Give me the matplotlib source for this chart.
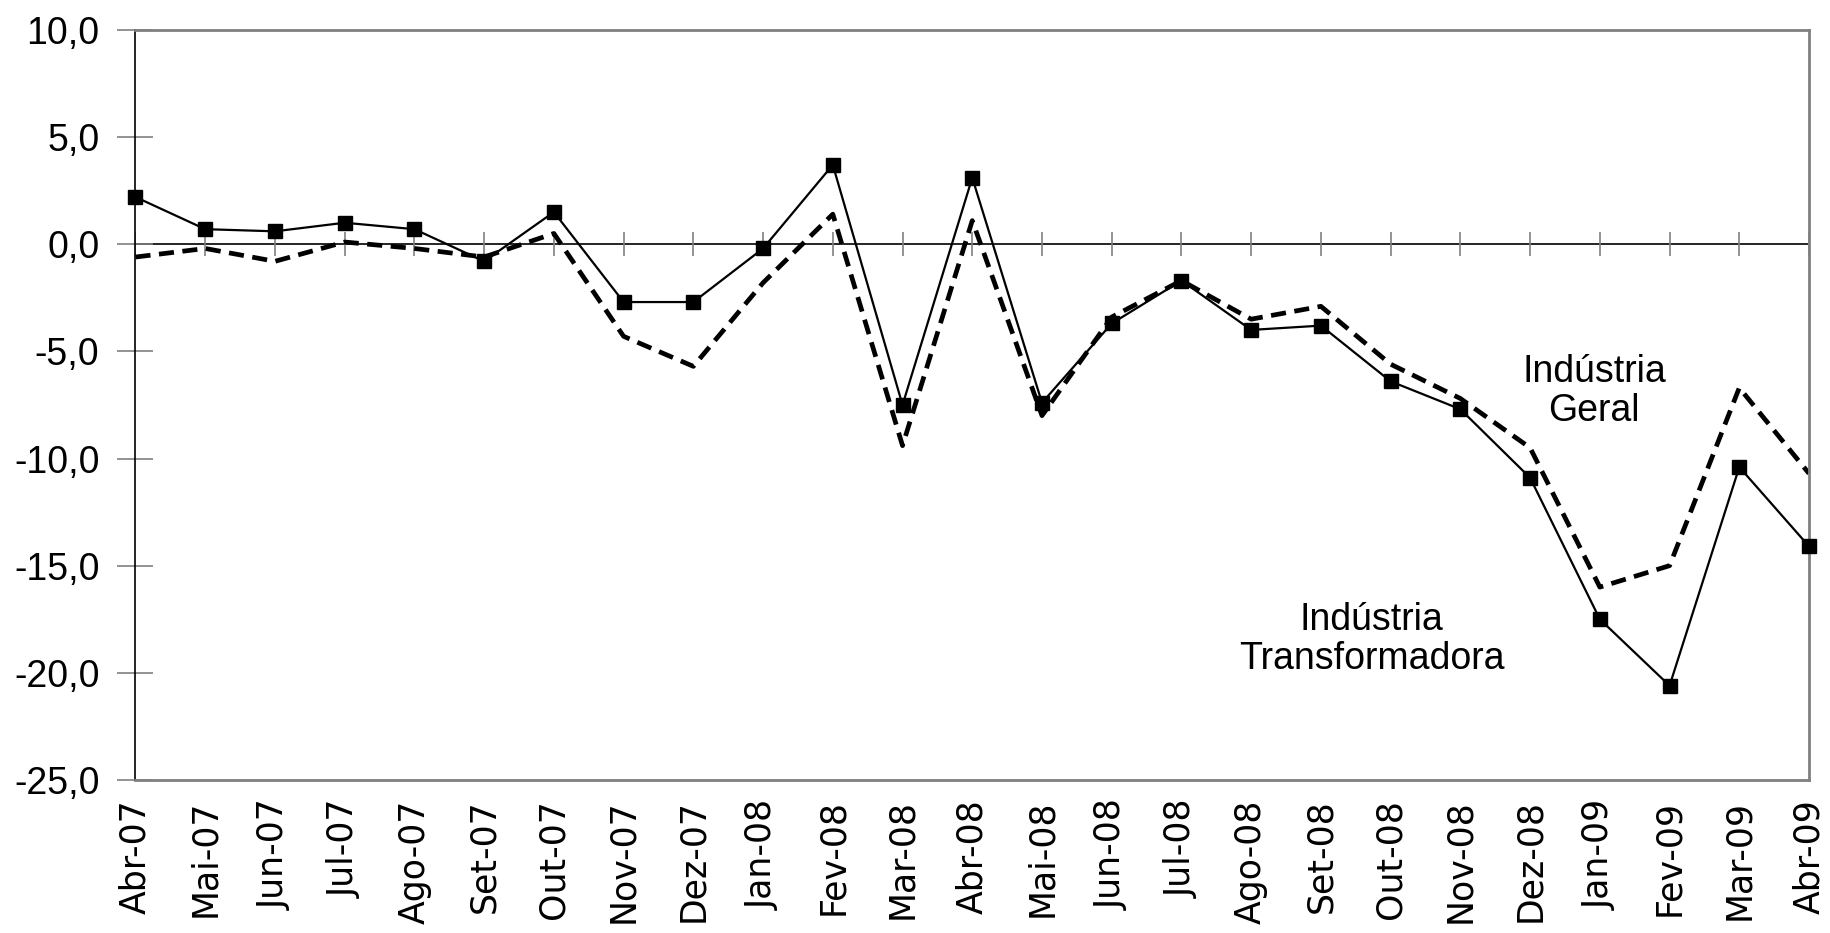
import numpy as np
import matplotlib
matplotlib.use('Agg')
from matplotlib import pyplot as plt

meses = ['Abr-07', 'Mai-07', 'Jun-07', 'Jul-07', 'Ago-07', 'Set-07', 'Out-07',
         'Nov-07', 'Dez-07', 'Jan-08', 'Fev-08', 'Mar-08', 'Abr-08', 'Mai-08',
         'Jun-08', 'Jul-08', 'Ago-08', 'Set-08', 'Out-08', 'Nov-08', 'Dez-08',
         'Jan-09', 'Fev-09', 'Mar-09', 'Abr-09']

# Indústria Transformadora (linha contínua com marcadores)
transformadora = [2.2, 0.7, 0.6, 1.0, 0.7, -0.8, 1.5, -2.7, -2.7, -0.2, 3.7,
                  -7.5, 3.1, -7.4, -3.7, -1.7, -4.0, -3.8, -6.4, -7.7, -10.9,
                  -17.5, -20.6, -10.4, -14.1]

# Indústria Geral (linha tracejada)
geral = [-0.6, -0.2, -0.8, 0.1, -0.2, -0.6, 0.5, -4.3, -5.7, -1.8, 1.4,
         -9.4, 1.1, -8.0, -3.4, -1.7, -3.5, -2.9, -5.6, -7.2, -9.5,
         -16.0, -15.0, -6.7, -10.7]

yticks = [10, 5, 0, -5, -10, -15, -20, -25]

fig = plt.figure(figsize=(18.31, 9.33), dpi=100)
ax = fig.add_axes([0.074, 0.164, 0.914, 0.804])

x = np.arange(len(meses))

ax.axhline(0, color='black', lw=1.2, zorder=1)
# marcas do eixo das categorias sobre a linha do zero
ax.plot(x, np.zeros(len(x)), ls='none', marker='|', markersize=17,
        markeredgewidth=1.2, color='#808080', zorder=1)

ax.plot(x, geral, color='black', lw=3.4, dashes=(3.2, 1.8), zorder=2,
        clip_on=False)
ax.plot(x, transformadora, color='black', lw=1.6, marker='s', markersize=9.5,
        zorder=3, clip_on=False)

ax.set_xlim(0, len(meses) - 1)
ax.set_ylim(-25, 10)

ax.set_yticks(yticks)
ax.set_yticklabels([('%.1f' % v).replace('.', ',') for v in yticks],
                   family='Liberation Sans', fontsize=27)
ax.tick_params(axis='y', direction='inout', length=26, width=1.2,
               color='#808080', pad=13)

ax.set_xticks(x)
ax.set_xticklabels(meses, rotation=90, family='DejaVu Sans', fontsize=25)
ax.tick_params(axis='x', length=0, pad=14)

for s in ['top', 'right', 'bottom']:
    ax.spines[s].set_color('#808080')
    ax.spines[s].set_linewidth(2)
ax.spines['left'].set_color('black')
ax.spines['left'].set_linewidth(1.2)

ax.text(20.92, -6.86, 'Indústria\nGeral', ha='center', va='center',
        family='Liberation Sans', fontsize=27, linespacing=1.1)
ax.text(17.73, -18.45, 'Indústria\nTransformadora', ha='center', va='center',
        family='Liberation Sans', fontsize=27, linespacing=1.1)

fig.savefig('out.png', dpi=100, facecolor='white')
